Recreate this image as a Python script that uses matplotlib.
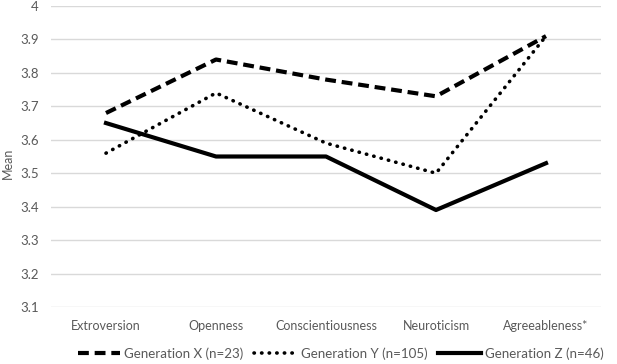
import matplotlib
matplotlib.use("Agg")
import matplotlib.pyplot as plt

categories = ["Extroversion", "Openness", "Conscientiousness", "Neuroticism", "Agreeableness*"]
gen_x = [3.68, 3.84, 3.78, 3.73, 3.91]
gen_y = [3.56, 3.74, 3.59, 3.50, 3.91]
gen_z = [3.65, 3.55, 3.55, 3.39, 3.53]
labels = ["Generation X (n=23)", "Generation Y (n=105)", "Generation Z (n=46)"]
yticks = [3.1, 3.2, 3.3, 3.4, 3.5, 3.6, 3.7, 3.8, 3.9, 4]

plt.rcParams["font.family"] = ["Lato", "DejaVu Sans"]
grey = "#595959"

fig = plt.figure(figsize=(6.17, 3.64), dpi=100)
ax = fig.add_axes([51 / 617, 1 - 307 / 364, 550 / 617, 301 / 364])

x = range(len(categories))
ax.plot(x, gen_x, color="black", lw=3, ls=(0, (2.6, 1.4)), label=labels[0], dash_capstyle="butt")
ax.plot(x, gen_y, color="black", lw=2.6, ls=(0, (0.1, 2.0)), dash_capstyle="round", label=labels[1])
ax.plot(x, gen_z, color="black", lw=3, ls="-", label=labels[2])

ax.set_xlim(-0.5, 4.5)
ax.set_ylim(3.1, 4.0)
ax.set_yticks(yticks)
ax.set_yticklabels([("%g" % v) for v in yticks], color=grey, fontsize=9.5)
ax.set_xticks(list(x))
ax.set_xticklabels(categories, color=grey, fontsize=9)
ax.tick_params(axis="x", length=0, pad=9)
ax.tick_params(axis="y", length=0, pad=9)
ax.grid(axis="y", color="#d9d9d9", lw=1)
ax.set_axisbelow(True)
for s in ax.spines.values():
    s.set_visible(False)
fig.text(8 / 617, 1 - 163 / 364, "Mean", rotation=90, ha="center", va="center",
         color=grey, fontsize=9)

fig.legend(loc="lower center", bbox_to_anchor=(0.552, -0.022), ncol=3, frameon=False,
           fontsize=9.6, handlelength=3.2, handletextpad=0.3, columnspacing=0.8,
           labelcolor=grey)

fig.savefig("out.png", dpi=100)
